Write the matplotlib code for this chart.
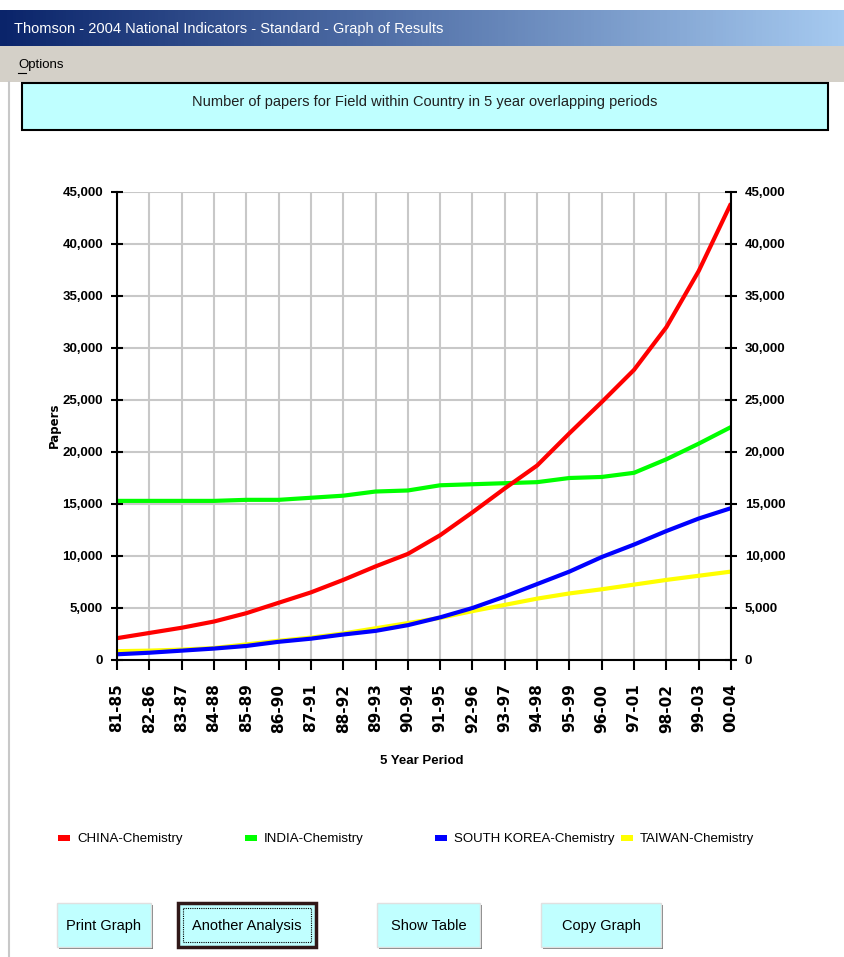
import numpy as np
import matplotlib
matplotlib.use("Agg")
import matplotlib.pyplot as plt
from matplotlib.patches import Rectangle

# data
periods = ['81-85', '82-86', '83-87', '84-88', '85-89', '86-90', '87-91',
           '88-92', '89-93', '90-94', '91-95', '92-96', '93-97', '94-98',
           '95-99', '96-00', '97-01', '98-02', '99-03', '00-04']
china = [2100, 2600, 3100, 3700, 4500, 5500, 6500, 7700, 9000, 10200,
         12000, 14200, 16500, 18700, 21800, 24800, 27900, 32000, 37400, 43900]
india = [15300, 15300, 15300, 15300, 15400, 15400, 15600, 15800, 16200, 16300,
         16800, 16900, 17000, 17100, 17500, 17600, 18000, 19300, 20800, 22400]
korea = [550, 700, 900, 1100, 1350, 1750, 2050, 2450, 2800, 3350,
         4100, 5000, 6100, 7300, 8500, 9900, 11100, 12400, 13600, 14600]
taiwan = [850, 900, 1000, 1150, 1500, 1850, 2150, 2550, 3050, 3550,
          4050, 4700, 5300, 5900, 6400, 6800, 7250, 7700, 8100, 8500]

series = ['CHINA-Chemistry', 'INDIA-Chemistry', 'SOUTH KOREA-Chemistry', 'TAIWAN-Chemistry']
colors = ['#ff0000', '#00ff00', '#0000ff', '#ffff00']
buttons = ['Print Graph', 'Another Analysis', 'Show Table', 'Copy Graph']

ui = 'Liberation Sans'   # narrowest of the installed families

W, H = 845, 957
fig = plt.figure(figsize=(W / 100, H / 100), dpi=100)
fig.patch.set_facecolor('white')

# background "window" drawn in pixel coordinates
bg = fig.add_axes([0, 0, 1, 1], zorder=0)
bg.set_xlim(0, W)
bg.set_ylim(H, 0)
bg.axis('off')

# title bar gradient
grad = np.linspace(0, 1, 256)
c0 = np.array([10, 36, 106]) / 255
c1 = np.array([166, 202, 240]) / 255
img = (c0[None, :] * (1 - grad[:, None]) + c1[None, :] * grad[:, None])[None, :, :]
bg.imshow(img, extent=(0, W, 46, 10), aspect='auto', zorder=1)
bg.text(14, 29, 'Thomson - 2004 National Indicators - Standard - Graph of Results',
        color='white', fontsize=10.5, family=ui, va='center', ha='left', zorder=2)

# menu bar
bg.add_patch(Rectangle((0, 46), W, 36, facecolor='#d4d0c8', edgecolor='none', zorder=1))
bg.text(18, 65, 'Options', fontsize=9.5, family=ui, va='center', ha='left', color='black')
bg.plot([18, 26], [73, 73], color='black', lw=0.8)
bg.plot([9, 9], [82, H], color='#c8c8c8', lw=1.5)

# header box
bg.add_patch(Rectangle((22, 83), 806, 47, facecolor='#bfffff', edgecolor='black', lw=1.5, zorder=1))
bg.text(425, 102, 'Number of papers for Field within Country in 5 year overlapping periods',
        fontsize=10.5, family=ui, ha='center', va='center', color='#202020')

# axis labels
bg.text(54, 425, 'Papers', rotation=90, fontsize=8.5, fontweight='bold',
        ha='center', va='center')
bg.text(422, 761, '5 Year Period', fontsize=9.5, family=ui, fontweight='bold',
        ha='center', va='center')

# legend
leg_x = [58, 245, 435, 621]
for x, name, col in zip(leg_x, series, colors):
    bg.add_patch(Rectangle((x, 835), 12, 6, facecolor=col, edgecolor='none'))
    bg.text(x + 19, 839, name, fontsize=9.5, family=ui, va='center', ha='left')

# buttons
btn_x = [57, 178, 377, 541]
btn_w = [94, 138, 103, 120]
for i, (x, w, label) in enumerate(zip(btn_x, btn_w, buttons)):
    bg.add_patch(Rectangle((x + 2, 905), w, 44, facecolor='#808080', edgecolor='none'))
    if i == 1:
        bg.add_patch(Rectangle((x, 903), w, 44, facecolor='#c0ffff', edgecolor='#301818', lw=2.5))
        bg.add_patch(Rectangle((x + 5, 908), w - 10, 34, facecolor='none', edgecolor='black',
                               lw=0.8, ls=(0, (1, 1))))
    else:
        bg.add_patch(Rectangle((x, 903), w, 44, facecolor='#c0ffff', edgecolor='#e0e0e0', lw=1))
    bg.text(x + w / 2, 926, label, fontsize=10.5, family=ui, ha='center', va='center')

# main chart
ax = fig.add_axes([117 / W, (H - 660) / H, 614 / W, 468 / H], zorder=2)
x = np.arange(len(periods))
for vals, col in zip([taiwan, korea, india, china], [colors[3], colors[2], colors[1], colors[0]]):
    ax.plot(x, vals, color=col, lw=3, solid_capstyle='butt')

ax.set_xlim(0, len(periods) - 1)
ax.set_ylim(0, 45000)
ax.set_xticks(x)
ax.set_xticklabels(periods, rotation=90, fontsize=11, fontweight='bold', va='top')
ax.set_yticks(np.arange(0, 45001, 5000))
ax.set_yticklabels(['{:,}'.format(v) for v in range(0, 45001, 5000)],
                   fontsize=9.5, family=ui, fontweight='bold')
ax.tick_params(axis='y', direction='inout', length=8, width=1.5, pad=6,
               right=True, labelright=True)
ax.tick_params(axis='x', direction='out', length=7, width=1.5, pad=10)
ax.grid(True, color='#c8c8c8', lw=1.5)
ax.set_axisbelow(True)
ax.spines['top'].set_visible(False)
for s in ['left', 'right', 'bottom']:
    ax.spines[s].set_linewidth(1.5)

fig.savefig('out.png', dpi=100)
